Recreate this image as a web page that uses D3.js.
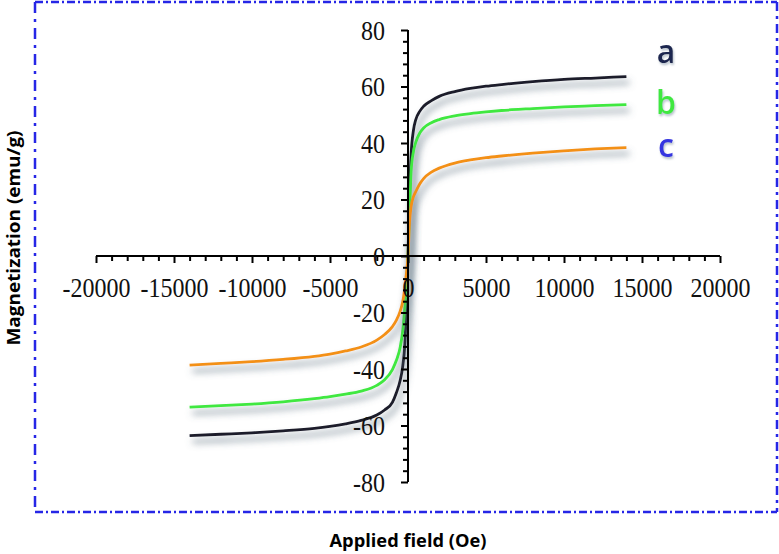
<!DOCTYPE html>
<html>
<head>
<meta charset="utf-8">
<script src="https://cdn.jsdelivr.net/npm/d3@7"></script>
<style>
  body { margin: 0; background: #fff; }
  svg { display: block; }
</style>
</head>
<body>
<div id="chart"></div>
<script>
// applied field (Oe), shared by the three samples
const fields = [-14000, -12000, -10000, -8000, -6000, -5000, -4000, -3000, -2000, -1500, -1000, -750, -500, -350, -200, -100,
                0, 100, 200, 350, 500, 750, 1000, 1500, 2000, 3000, 4000, 5000, 6000, 8000, 10000, 12000, 14000];
// magnetization (emu/g)
const sampleA = [-63.6, -63.1, -62.6, -61.9, -61.0, -60.3, -59.4, -58.2, -56.3, -54.5, -51.8, -48.5, -44.0, -39.5, -31.0, -18.0,
                 0, 22.0, 36.0, 44.5, 48.3, 51.2, 53.0, 55.0, 56.5, 58.2, 59.3, 60.1, 60.7, 61.7, 62.5, 63.0, 63.5];
const sampleB = [-53.5, -53.0, -52.4, -51.6, -50.5, -49.8, -48.9, -47.8, -45.8, -43.8, -40.2, -37.0, -32.3, -27.0, -18.0, -10.0,
                 0, 15.0, 30.0, 37.0, 40.3, 43.5, 45.3, 47.2, 48.3, 49.6, 50.4, 51.0, 51.5, 52.2, 52.8, 53.2, 53.6];
const sampleC = [-38.6, -38.0, -37.4, -36.6, -35.5, -34.7, -33.6, -32.2, -29.8, -27.8, -25.0, -22.8, -19.5, -16.5, -11.0, -6.0,
                 0, 12.0, 17.5, 21.0, 22.8, 25.5, 27.4, 29.7, 31.1, 32.9, 34.0, 34.8, 35.4, 36.4, 37.2, 37.9, 38.4];

const seriesNames = ["a", "b", "c"];
const lineColors = ["#1d1d2b", "#3fe83f", "#f39019"];
const labelColors = ["#1f2650", "#3fe83f", "#3535e0"];
const xTicks = [-20000, -15000, -10000, -5000, 0, 5000, 10000, 15000, 20000];
const yTicks = [-80, -60, -40, -20, 0, 20, 40, 60, 80];

const width = 779, height = 554;
const svg = d3.select("#chart").append("svg")
  .attr("width", width)
  .attr("height", height);

const x = d3.scaleLinear().domain([-20000, 20000]).range([96, 720]);
const y = d3.scaleLinear().domain([-80, 80]).range([482, 30]);

// soft grey shadow under each curve
const defs = svg.append("defs");
const shadow = defs.append("filter").attr("id", "shade")
  .attr("x", "-20%").attr("y", "-20%").attr("width", "140%").attr("height", "140%");
shadow.append("feDropShadow")
  .attr("dx", 3).attr("dy", 6)
  .attr("stdDeviation", 3.5)
  .attr("flood-color", "#566c7a")
  .attr("flood-opacity", 0.8);

const textShade = defs.append("filter").attr("id", "tshade");
textShade.append("feDropShadow")
  .attr("dx", 1).attr("dy", 2)
  .attr("stdDeviation", 1)
  .attr("flood-color", "#8899aa")
  .attr("flood-opacity", 0.6);

// dash-dot frame
const frame = svg.append("g").attr("fill", "none").attr("stroke", "#2626e6").attr("stroke-width", 2.5);
frame.append("line").attr("x1", 35).attr("y1", 2).attr("x2", 777).attr("y2", 2).attr("stroke-dasharray", "8,3,2,3");
frame.append("line").attr("x1", 35).attr("y1", 512).attr("x2", 777).attr("y2", 512).attr("stroke-dasharray", "8,3,2,3");
frame.append("line").attr("x1", 35).attr("y1", 2).attr("x2", 35).attr("y2", 512).attr("stroke-dasharray", "11,6,3,6");
frame.append("line").attr("x1", 777).attr("y1", 2).attr("x2", 777).attr("y2", 512).attr("stroke-dasharray", "9,5,3,5");

// curves
const line = d3.line()
  .x((d, i) => x(fields[i]))
  .y(d => y(d))
  .curve(d3.curveMonotoneX);

const curves = svg.append("g");
[sampleA, sampleB, sampleC].forEach((vals, i) => {
  curves.append("path")
    .datum(vals)
    .attr("d", line)
    .attr("fill", "none")
    .attr("stroke", lineColors[i])
    .attr("stroke-width", 2.8)
    .attr("filter", "url(#shade)");
});

// x axis (through y = 0)
const xAxis = d3.axisBottom(x)
  .tickValues(d3.range(-20000, 20001, 1000))
  .tickSize(6)
  .tickFormat(d => xTicks.includes(d) ? d : "");
const gx = svg.append("g")
  .attr("transform", `translate(0,${y(0)})`)
  .call(xAxis);
gx.select(".domain").attr("stroke", "#000").attr("stroke-width", 2).attr("d", `M${x(-20000)},0H${x(20000)}`);
gx.selectAll(".tick line").attr("stroke", "#000").attr("stroke-width", 2)
  .attr("y2", d => xTicks.includes(d) ? 7 : 5);
gx.selectAll(".tick text")
  .attr("y", 0)
  .attr("dy", 0)
  .attr("transform", "translate(0,41) scale(1,1.1)")
  .attr("fill", "#111")
  .style("font-family", "'Liberation Serif', serif")
  .style("font-size", "24px");

// y axis (through x = 0)
const yAxis = d3.axisLeft(y)
  .tickValues(d3.range(-80, 81, 4))
  .tickSize(6)
  .tickFormat(d => yTicks.includes(d) ? d : "");
const gy = svg.append("g")
  .attr("transform", `translate(${x(0)},0)`)
  .call(yAxis);
gy.select(".domain").attr("stroke", "#000").attr("stroke-width", 2).attr("d", `M0,${y(80)}V${y(-80)}`);
gy.selectAll(".tick line").attr("stroke", "#000").attr("stroke-width", 2)
  .attr("x2", d => yTicks.includes(d) ? -7 : -5);
gy.selectAll(".tick text")
  .attr("x", 0)
  .attr("dy", 0)
  .attr("transform", "translate(-23,9) scale(1,1.1)")
  .attr("fill", "#111")
  .style("font-family", "'Liberation Serif', serif")
  .style("font-size", "24px");

// series labels
const labelY = [63, 114, 157];
svg.append("g").selectAll("text")
  .data(seriesNames)
  .join("text")
    .attr("x", 666)
    .attr("y", (d, i) => labelY[i])
    .attr("text-anchor", "middle")
    .attr("fill", (d, i) => labelColors[i])
    .attr("filter", "url(#tshade)")
    .style("font-family", "'Open Sans', sans-serif")
    .style("font-weight", "600")
    .style("font-size", "32px")
    .text(d => d);

// axis titles
svg.append("text")
  .attr("x", 408)
  .attr("y", 547)
  .attr("text-anchor", "middle")
  .attr("textLength", 157)
  .attr("lengthAdjust", "spacingAndGlyphs")
  .style("font-family", "'Open Sans', sans-serif")
  .style("font-weight", "bold")
  .style("font-size", "17px")
  .text("Applied field (Oe)");

svg.append("text")
  .attr("transform", "translate(20,238) rotate(-90)")
  .attr("text-anchor", "middle")
  .attr("textLength", 215)
  .attr("lengthAdjust", "spacingAndGlyphs")
  .style("font-family", "'Open Sans', sans-serif")
  .style("font-weight", "bold")
  .style("font-size", "17px")
  .text("Magnetization (emu/g)");
</script>
</body>
</html>
